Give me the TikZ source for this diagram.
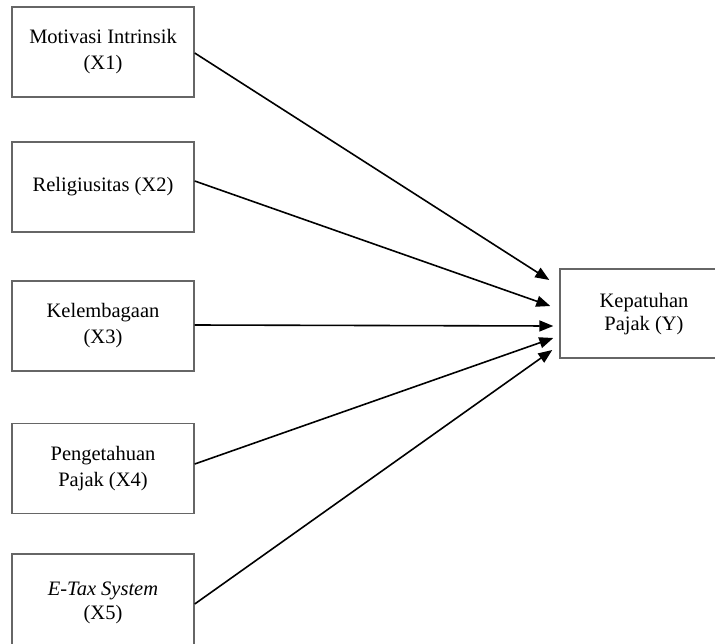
\documentclass[tikz,border=0pt]{standalone}
\usepackage{fontspec}
\setmainfont{Liberation Serif}
\usetikzlibrary{arrows.meta,calc}
\begin{document}
\begin{tikzpicture}[x=1pt,y=1pt,
  box/.style={draw=black!60, line width=1.4pt, minimum width=182pt, minimum height=90pt,
    inner sep=0pt, align=center, font=\fontsize{20.5}{26}\selectfont},
  arr/.style={line width=1.6pt, -{Triangle[length=14pt,width=11pt]}}]
\clip (0,0) rectangle (715,-643);
\node[box] (x1) at (103,-52) {Motivasi Intrinsik\\(X1)};
\node[box] (x2) at (103,-187) {Religiusitas (X2)};
\node[box] (x3) at (103,-326) {Kelembagaan\\(X3)};
\node[box] (x4) at (103,-468.5) {Pengetahuan\\Pajak (X4)};
\node[box, minimum height=96pt] (x5) at (103,-602) {\raisebox{2pt}{\begin{tabular}{@{}c@{}}\textit{E-Tax System}\\[-2pt](X5)\end{tabular}}};
\node[box, minimum width=168pt, minimum height=89pt] (y) at (644,-313.5)
  {\raisebox{7.5pt}{\begin{tabular}{@{}c@{}}Kepatuhan\\[-3pt]Pajak (Y)\end{tabular}}};
\draw[arr] ([yshift=-1pt]x1.east) -- ($(y.west)+(-10,33.5)$);
\draw[arr] ([yshift=6pt]x2.east) -- ($(y.west)+(-9,7.5)$);
\draw[arr] ([yshift=1pt]x3.east) -- ($(y.west)+(-6,-12.5)$);
\draw[arr] ([yshift=4.5pt]x4.east) -- ($(y.west)+(-6,-24.5)$);
\draw[arr] ([yshift=-2pt]x5.east) -- ($(y.west)+(-7,-36.5)$);
\end{tikzpicture}
\end{document}
